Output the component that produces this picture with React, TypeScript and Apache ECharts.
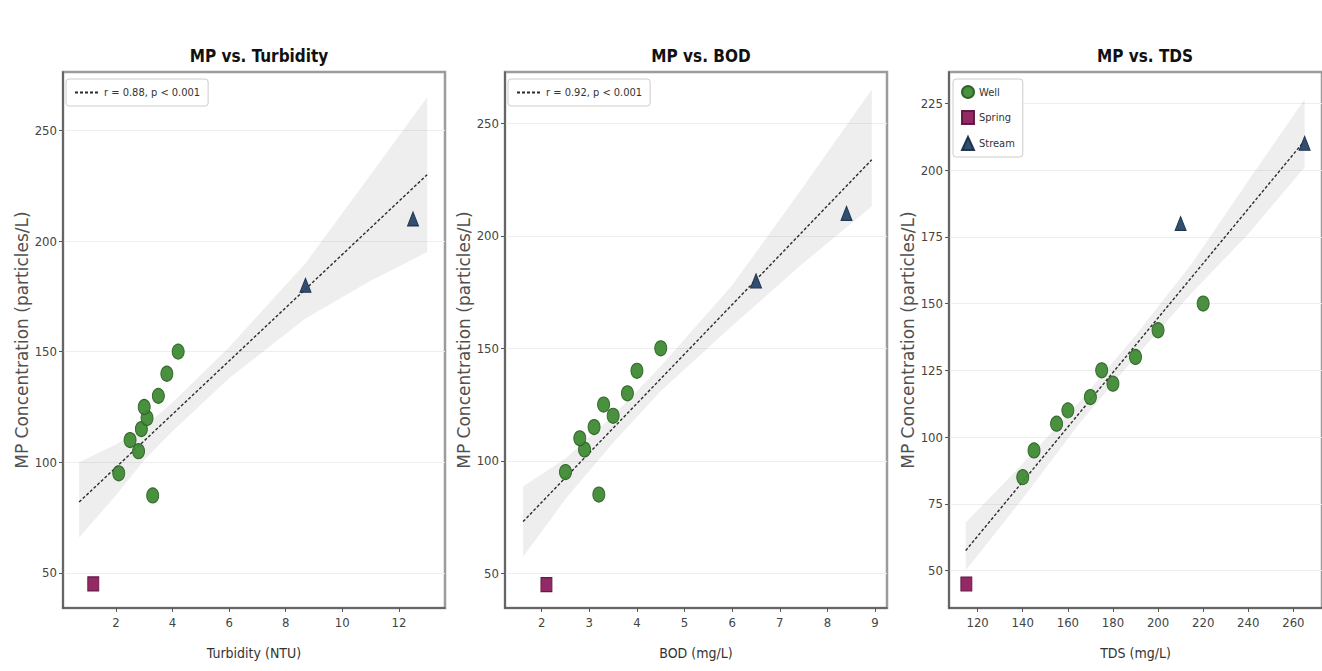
import React, { useEffect, useRef } from "react";
import * as echarts from "echarts";

// ---- data ----
const MP_WELL = [85, 95, 105, 110, 115, 120, 125, 130, 140, 150];
const MP_SPRING = [45];
const MP_STREAM = [180, 210];

const TURB_WELL = [3.3, 2.1, 2.8, 2.5, 2.9, 3.1, 3.0, 3.5, 3.8, 4.2];
const TURB_SPRING = [1.2];
const TURB_STREAM = [8.7, 12.5];

const BOD_WELL = [3.2, 2.5, 2.9, 2.8, 3.1, 3.5, 3.3, 3.8, 4.0, 4.5];
const BOD_SPRING = [2.1];
const BOD_STREAM = [6.5, 8.4];

const TDS_WELL = [140, 145, 155, 160, 170, 180, 175, 190, 200, 220];
const TDS_SPRING = [115];
const TDS_STREAM = [210, 265];

// regression lines and confidence bands
const TURB_FIT_X = [0.7, 2, 3, 4, 6, 8.7, 11, 13];
const TURB_FIT_Y = [82, 97.6, 109.7, 121.7, 145.8, 178.2, 205.9, 230];
const TURB_FIT_HI = [100, 108, 116, 127, 152, 190, 230, 265];
const TURB_FIT_LO = [66, 85, 101, 114, 138, 165, 182, 195];

const BOD_FIT_X = [1.61, 2.5, 3.5, 4.5, 6, 7.5, 8.93];
const BOD_FIT_Y = [73, 92.6, 114.5, 136.5, 169.4, 202.4, 233.8];
const BOD_FIT_HI = [88.6, 101, 120, 142, 178, 222, 265];
const BOD_FIT_LO = [57.4, 83, 108, 131, 160, 188, 213];

const TDS_FIT_X = [114.7, 140, 165, 190, 215, 240, 265];
const TDS_FIT_Y = [57.5, 83.3, 108.9, 134.4, 159.9, 185.4, 211];
const TDS_FIT_HI = [68, 90, 113, 138, 165, 196, 226.5];
const TDS_FIT_LO = [50, 77, 105, 130, 154, 176, 201];

const TURB_TICKS = [2, 4, 6, 8, 10, 12];
const BOD_TICKS = [2, 3, 4, 5, 6, 7, 8, 9];
const TDS_TICKS = [120, 140, 160, 180, 200, 220, 240, 260];
const MP_TICKS_AB = [50, 100, 150, 200, 250];
const MP_TICKS_C = [50, 75, 100, 125, 150, 175, 200, 225];

const TITLES = ["MP vs. Turbidity", "MP vs. BOD", "MP vs. TDS"];
const X_NAMES = ["Turbidity (NTU)", "BOD (mg/L)", "TDS (mg/L)"];
const Y_NAME = "MP Concentration (particles/L)";
const FIT_LABELS = ["r = 0.88, p < 0.001", "r = 0.92, p < 0.001"];
const GROUPS = ["Well", "Spring", "Stream"];

const NARROW = "'Liberation Sans Narrow', 'DejaVu Sans Condensed', 'DejaVu Sans', sans-serif";

export default function App() {
  const ref = useRef<HTMLDivElement>(null);

  useEffect(() => {
    if (!ref.current) return;
    const chart = echarts.init(ref.current, undefined, { renderer: "svg" });

    const panels = [
      {
        left: 63, xmin: 0.13, xmax: 13.63, ymin: 34.1, ymax: 276.4,
        xt: TURB_TICKS, yt: MP_TICKS_AB,
        well: TURB_WELL, spring: TURB_SPRING, stream: TURB_STREAM,
        fx: TURB_FIT_X, fy: TURB_FIT_Y, fhi: TURB_FIT_HI, flo: TURB_FIT_LO,
        fitName: FIT_LABELS[0],
      },
      {
        left: 505, xmin: 1.23, xmax: 9.25, ymin: 34.6, ymax: 272.8,
        xt: BOD_TICKS, yt: MP_TICKS_AB,
        well: BOD_WELL, spring: BOD_SPRING, stream: BOD_STREAM,
        fx: BOD_FIT_X, fy: BOD_FIT_Y, fhi: BOD_FIT_HI, flo: BOD_FIT_LO,
        fitName: FIT_LABELS[1],
      },
      {
        left: 949, xmin: 107.3, xmax: 272.7, ymin: 36, ymax: 236.7,
        xt: TDS_TICKS, yt: MP_TICKS_C,
        well: TDS_WELL, spring: TDS_SPRING, stream: TDS_STREAM,
        fx: TDS_FIT_X, fy: TDS_FIT_Y, fhi: TDS_FIT_HI, flo: TDS_FIT_LO,
        fitName: "Fit",
      },
    ];

    const W = 382;
    const TOP = 72;
    const H = 536;

    const grids: any[] = [];
    const xAxes: any[] = [];
    const yAxes: any[] = [];
    const titles: any[] = [];
    const series: any[] = [];

    panels.forEach((p, i) => {
      grids.push({
        left: p.left, top: TOP, width: W, height: H,
        show: true, borderColor: "#9c9c9c", borderWidth: 2.5, backgroundColor: "#fff",
      });
      titles.push({
        text: TITLES[i], left: p.left + W / 2, top: 42, textAlign: "center",
        textStyle: { fontFamily: NARROW, fontSize: 17, fontWeight: "bold", color: "#111" },
      });
      xAxes.push({
        type: "value", gridIndex: i, min: p.xmin, max: p.xmax,
        name: X_NAMES[i], nameLocation: "middle", nameGap: 38,
        nameTextStyle: { fontFamily: NARROW, fontSize: 14, color: "#333" },
        axisLine: { show: true, onZero: false, lineStyle: { color: "#555", width: 1.5 } },
        axisTick: { show: true, length: 4, customValues: p.xt, lineStyle: { color: "#555" } },
        axisLabel: { customValues: p.xt, fontFamily: NARROW, fontSize: 13, color: "#444", margin: 8 },
        splitLine: { show: false },
      });
      yAxes.push({
        type: "value", gridIndex: i, min: p.ymin, max: p.ymax,
        name: Y_NAME, nameLocation: "middle", nameGap: 32,
        nameTextStyle: { fontFamily: "'DejaVu Sans', sans-serif", fontSize: 17, color: "#505050" },
        axisLine: { show: true, onZero: false, lineStyle: { color: "#555", width: 1.5 } },
        axisTick: { show: true, length: 4, customValues: p.yt, lineStyle: { color: "#555" } },
        axisLabel: { customValues: p.yt, fontFamily: NARROW, fontSize: 13, color: "#444", margin: 6 },
        splitLine: { show: true, lineStyle: { color: "#eeeeee", width: 1 } },
      });

      const fx = p.fx, fhi = p.fhi, flo = p.flo;
      series.push({
        type: "custom", xAxisIndex: i, yAxisIndex: i, silent: true, z: 1,
        clip: true,
        data: fx.map((x: number, k: number) => [x, p.fy[k]]),
        renderItem: (params: any, api: any) => {
          if (params.dataIndex !== 0) return null;
          const pts: number[][] = [];
          for (let k = 0; k < fx.length; k++) pts.push(api.coord([fx[k], fhi[k]]));
          for (let k = fx.length - 1; k >= 0; k--) pts.push(api.coord([fx[k], flo[k]]));
          return { type: "polygon", shape: { points: pts }, style: { fill: "rgba(120,120,120,0.13)" } };
        },
      });
      series.push({
        name: p.fitName, type: "line", xAxisIndex: i, yAxisIndex: i, z: 3,
        symbol: "none", showSymbol: false,
        data: [[fx[0], p.fy[0]], [fx[fx.length - 1], p.fy[p.fy.length - 1]]],
        lineStyle: { color: "#2b2b2b", width: 1.4, type: [3, 2] },
        itemStyle: { color: "#2b2b2b" },
      });
      series.push({
        name: GROUPS[0], type: "scatter", xAxisIndex: i, yAxisIndex: i, z: 4,
        symbol: "circle", symbolSize: [12, 15],
        data: p.well.map((x: number, k: number) => [x, MP_WELL[k]]),
        itemStyle: { color: "#3f8a35", borderColor: "#2b5f24", borderWidth: 1, opacity: 0.95 },
      });
      series.push({
        name: GROUPS[1], type: "scatter", xAxisIndex: i, yAxisIndex: i, z: 4,
        symbol: "rect", symbolSize: [11, 14],
        data: p.spring.map((x: number, k: number) => [x, MP_SPRING[k]]),
        itemStyle: { color: "#8d1f5e", borderColor: "#5e1440", borderWidth: 1, opacity: 0.95 },
      });
      series.push({
        name: GROUPS[2], type: "scatter", xAxisIndex: i, yAxisIndex: i, z: 4,
        symbol: "triangle", symbolSize: [11, 14],
        data: p.stream.map((x: number, k: number) => [x, MP_STREAM[k]]),
        itemStyle: { color: "#27466a", borderColor: "#1a2f48", borderWidth: 1, opacity: 0.95 },
      });
    });

    const legendBase = {
      backgroundColor: "rgba(255,255,255,0.9)", borderColor: "#cccccc", borderWidth: 1, borderRadius: 3,
      textStyle: { fontFamily: NARROW, fontSize: 11, color: "#333" },
      selectedMode: false,
    };

    chart.setOption({
      animation: false,
      backgroundColor: "#ffffff",
      title: titles,
      grid: grids,
      xAxis: xAxes,
      yAxis: yAxes,
      legend: [
        {
          ...legendBase, data: [FIT_LABELS[0]], left: 66, top: 79, itemWidth: 24, itemHeight: 10, padding: [8, 8],
          itemStyle: { opacity: 0 },
        },
        {
          ...legendBase, data: [FIT_LABELS[1]], left: 508, top: 79, itemWidth: 24, itemHeight: 10, padding: [8, 8],
          itemStyle: { opacity: 0 },
        },
        {
          ...legendBase, data: GROUPS, left: 953, top: 79, orient: "vertical",
          itemWidth: 12, itemHeight: 13, itemGap: 11, padding: [6, 8],
        },
      ],
      series,
    });

    return () => chart.dispose();
  }, []);

  return (
    <div
      ref={ref}
      style={{ position: "absolute", left: 0, top: 0, width: 1322, height: 671, background: "#fff" }}
    />
  );
}
